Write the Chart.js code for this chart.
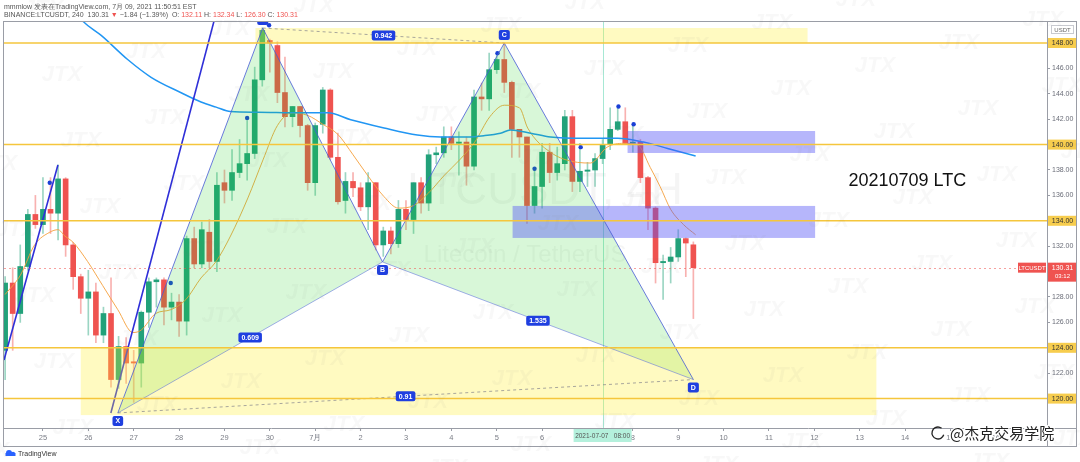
<!DOCTYPE html>
<html>
<head>
<meta charset="utf-8">
<title>LTCUSDT 4H</title>
<script src="https://cdn.jsdelivr.net/npm/chart.js@4.4.1/dist/chart.umd.min.js"></script>
<style>
  html, body { margin: 0; padding: 0; background: #fff; overflow: hidden; }
  canvas { display: block; }
</style>
</head>
<body>
<canvas id="ltcChart" width="1080" height="462"></canvas>
<script>
// bar index 0 = 25 Jun 00:00, one step = one 4h candle
const firstBar = -5;
const opens = [
  123.8, 129.1, 126.7, 130.4, 134.5, 133.7, 134.9, 134.6, 137.3, 132.1,
  129.6, 127.9, 128.4, 125.0, 126.7, 121.5, 124.1, 122.9, 122.8, 126.8,
  129.2, 129.35, 127.2, 127.6, 126.1, 132.6, 130.6, 133.1, 130.8, 137.0,
  136.4, 137.8, 138.5, 139.3, 145.1, 148.2, 147.8, 144.1, 142.2, 143.0,
  141.5, 137.0, 141.6, 144.3, 139.0, 135.6, 137.1, 136.6, 135.1, 137.0,
  132.1, 133.2, 132.2, 134.9, 134.1, 137.0, 135.4, 139.2, 139.35, 140.6,
  140.1, 140.2, 138.3, 143.75, 143.6, 145.9, 146.7, 144.9, 141.2, 140.6,
  135.2, 136.7, 139.4, 137.8, 138.5, 142.2, 137.1, 137.9, 138.0, 138.9,
  140.0, 141.2, 141.8, 140.1, 140.2, 137.4, 135.0, 130.7, 130.8, 131.15,
  132.6, 132.11
];
const highs = [
  129.6, 130.3, 132.1, 134.9, 136.0, 137.4, 137.4, 138.4, 137.4, 132.3,
  129.8, 130.1, 129.1, 127.2, 129.5, 124.9, 124.8, 123.8, 126.9, 129.5,
  129.5, 129.5, 128.3, 128.2, 132.8, 133.5, 133.9, 134.1, 137.8, 138.0,
  139.6, 140.4, 141.9, 146.1, 149.2, 148.3, 148.1, 146.9, 143.0, 143.0,
  141.6, 141.7, 144.5, 144.4, 140.9, 137.8, 137.8, 137.0, 137.8, 137.0,
  133.5, 133.5, 135.6, 135.6, 137.0, 137.4, 139.6, 139.8, 141.4, 141.4,
  141.0, 140.6, 144.3, 144.85, 147.2, 147.3, 148.0, 145.0, 141.2, 140.6,
  138.2, 140.1, 140.1, 139.8, 142.7, 142.7, 140.1, 138.6, 139.3, 140.4,
  142.9, 142.9, 142.9, 141.5, 140.4, 137.5, 135.1, 131.3, 131.9, 133.3,
  132.65, 132.34
];
const lows = [
  121.5, 123.8, 126.0, 130.1, 133.4, 133.0, 133.0, 132.5, 131.2, 128.6,
  126.7, 125.0, 124.4, 124.4, 120.9, 120.8, 121.2, 119.7, 120.9, 125.6,
  127.2, 125.8, 126.2, 124.9, 125.0, 130.3, 130.3, 130.3, 130.0, 135.4,
  135.6, 137.4, 137.2, 138.9, 144.6, 145.7, 143.3, 141.4, 141.4, 140.6,
  136.4, 136.0, 140.9, 138.8, 135.3, 134.6, 135.9, 134.8, 133.3, 131.7,
  131.2, 131.4, 131.9, 133.3, 133.0, 134.6, 134.8, 138.5, 139.0, 139.6,
  137.6, 136.8, 138.0, 142.7, 142.7, 145.6, 144.1, 139.0, 139.0, 133.8,
  134.6, 135.0, 137.0, 137.2, 138.0, 136.3, 136.3, 136.7, 136.7, 138.5,
  139.6, 141.1, 140.0, 139.4, 137.0, 133.3, 129.1, 127.8, 129.1, 130.8,
  129.6, 126.30
];
const closes = [
  129.1, 126.7, 130.4, 134.5, 133.7, 134.9, 134.6, 137.3, 132.1, 129.6,
  127.9, 128.4, 125.0, 126.7, 121.5, 124.1, 122.8, 122.8, 126.8, 129.2,
  129.35, 127.2, 127.6, 126.1, 132.6, 130.6, 133.3, 130.8, 136.8, 136.4,
  137.8, 138.5, 139.3, 145.1, 149.0, 148.0, 144.1, 142.2, 143.0, 141.5,
  137.0, 141.5, 144.3, 139.0, 135.5, 137.1, 136.6, 135.1, 137.0, 132.1,
  133.2, 132.2, 134.9, 134.1, 137.0, 135.4, 139.2, 139.35, 140.6, 140.1,
  140.2, 138.3, 143.75, 143.6, 145.9, 146.7, 144.9, 141.2, 140.6, 135.2,
  136.7, 139.4, 137.8, 138.5, 142.2, 137.1, 137.9, 138.0, 138.9, 140.0,
  141.2, 141.8, 140.1, 140.2, 137.4, 135.0, 130.7, 130.8, 131.15, 132.6,
  132.25, 130.31
];

const dayTicks = [0, 6, 12, 18, 24, 30, 36, 42, 48, 54, 60, 66, 72, 78, 84, 90, 96, 102, 108, 114, 120, 126, 132];
const dayLabels = ['25', '26', '27', '28', '29', '30', '7月', '2', '3', '4', '5', '6', '7', '8', '9', '10', '11', '12', '13', '14', '15', '16', '17'];
const priceTicks = [120, 122, 124, 126, 128, 130, 132, 134, 136, 138, 140, 142, 144, 146, 148];

// moving averages
const maFastBars = [-5.0, -3.0, -1.1, 0.9, 2.0, 2.9, 4.0, 5.9, 7.9, 9.9, 11.9, 13.0, 14.9, 16.9, 18.9, 20.9, 22.9, 24.8,
  27.1, 29.1, 31.0, 33.0, 35.0, 37.0, 39.0, 41.0, 42.9, 45.1, 47.0, 49.0, 51.0, 53.1, 55.1, 57.1, 59.1, 61.0, 63.0,
  64.1, 67.1, 70.7, 72.4, 74.6, 76.8, 78.6, 80.3, 81.6, 83.0, 84.7, 86.3];
const maFastVals = [128.2, 129.7, 132.1, 133.1, 133.3, 132.8, 132.3, 130.8, 128.9, 127.0, 125.2, 125.4, 126.7, 127.0, 127.8, 129.5, 130.8, 132.8,
  135.8, 138.8, 141.5, 142.5, 142.3, 141.6, 140.8, 139.2, 137.6, 135.9, 135.0, 135.2, 136.2, 137.6, 138.8, 140.2, 142.2, 143.1, 142.9,
  141.3, 139.4, 138.6, 138.55, 139.8, 140.1, 140.0, 138.2, 136.7, 134.9, 133.7, 132.9];
const maSlowBars = [4.5, 5.4, 7.7, 11.2, 14.3, 18.2, 20.9, 22.9, 24.8, 28.4, 34.1, 37.7, 40.7, 45.1, 49.5, 52.6, 56.1, 58.3,
  60.5, 61.8, 64.5, 67.1, 71.5, 76.0, 79.4, 82.6, 86.3];
const maSlowVals = [150.3, 149.65, 148.6, 146.7, 145.3, 144.1, 143.35, 142.95, 142.6, 142.55, 142.5, 142.5, 141.95, 141.3, 140.75, 140.6, 140.6, 140.7,
  140.9, 141.15, 140.9, 140.6, 140.5, 140.5, 140.2, 139.7, 139.1];

// fractal dots
const dotBars = [0.9, 16.9, 27.0, 29.9, 60.1, 65.0, 71.1, 76.1, 78.1];
const dotVals = [137.0, 129.1, 142.1, 149.4, 147.2, 138.1, 139.8, 143.0, 141.6];

// XABCD pattern
const patNames = ['X', 'A', 'B', 'C', 'D'];
const patBars = [9.9, 29.06, 44.9, 61.0, 86.0];
const patVals = [118.87, 149.18, 130.76, 148.0, 121.5];
const patRatios = ['0.609', '0.942', '1.535', '0.91']; // XB, AC, BD, XD

const levels = [148, 140, 134, 124, 120];
const lastPrice = 130.31;

// zones: [fromBar, toBar, low, high]
const yellowZones = [[28.1, 101.1, 148.0, 149.18], [5.0, 110.2, 118.7, 124.0]];
const blueZones = [[77.3, 102.1, 139.34, 141.07], [62.1, 102.1, 132.65, 135.17]];

const trend1Bars = [-5.15, 1.98], trend1Vals = [123.04, 138.39];
const trend2Bars = [8.98, 24.0], trend2Vals = [118.87, 152.85];

const cursorBar = 74;
const noteBar = 106.5, noteVal = 137.1;

const FONT = '"Liberation Sans", Arial, sans-serif';
const GREEN = '#22a17a', RED = '#ef5350';

const bars = opens.map((_, i) => firstBar + i);
const isUp = opens.map((o, i) => closes[i] >= o);

function tag(ctx, text, cx, cy, bg, fg, font, h) {
  ctx.font = font;
  const w = ctx.measureText(text).width + 6;
  ctx.fillStyle = bg;
  ctx.beginPath();
  ctx.roundRect(cx - w / 2, cy - h / 2, w, h, 2);
  ctx.fill();
  ctx.fillStyle = fg;
  ctx.textAlign = 'center';
  ctx.textBaseline = 'middle';
  ctx.fillText(text, cx, cy + 0.5);
}

const drawings = {
  id: 'drawings',
  beforeDatasetsDraw(chart) {
    const { ctx, chartArea: a, scales: { x } } = chart;
    ctx.save();
    ctx.beginPath();
    ctx.rect(a.left, a.top, a.right - a.left, a.bottom - a.top);
    ctx.clip();
    ctx.fillStyle = 'rgba(110,110,110,0.07)';
    ctx.textAlign = 'center';
    ctx.textBaseline = 'middle';
    ctx.font = '44px ' + FONT;
    ctx.fillText('LTCUSDT, 4H', 545, 192);
    ctx.font = '24px ' + FONT;
    ctx.fillText('Litecoin / TetherUS', 525, 255);
    const cx = Math.round(x.getPixelForValue(cursorBar)) + 0.5;
    ctx.strokeStyle = 'rgba(80,210,170,0.5)';
    ctx.lineWidth = 1;
    ctx.beginPath();
    ctx.moveTo(cx, a.top);
    ctx.lineTo(cx, a.bottom);
    ctx.stroke();
    ctx.restore();
  },
  afterDatasetsDraw(chart) {
    const { ctx, chartArea: a, scales: { x, y } } = chart;
    const P = i => [x.getPixelForValue(patBars[i]), y.getPixelForValue(patVals[i])];
    const seg = (i, j) => {
      const p = P(i), q = P(j);
      ctx.beginPath(); ctx.moveTo(p[0], p[1]); ctx.lineTo(q[0], q[1]); ctx.stroke();
    };
    ctx.save();
    ctx.beginPath();
    ctx.rect(a.left, a.top, a.right - a.left, a.bottom - a.top);
    ctx.clip();

    // pattern triangles
    ctx.fillStyle = 'rgba(40,210,40,0.18)';
    [[0, 1, 2], [2, 3, 4]].forEach(t => {
      ctx.beginPath();
      t.forEach((i, n) => { const p = P(i); n ? ctx.lineTo(p[0], p[1]) : ctx.moveTo(p[0], p[1]); });
      ctx.closePath();
      ctx.fill();
    });

    // zones
    const zone = (z, fill) => {
      const x0 = x.getPixelForValue(z[0]), x1 = x.getPixelForValue(z[1]);
      const y0 = y.getPixelForValue(z[3]), y1 = y.getPixelForValue(z[2]);
      ctx.fillStyle = fill;
      ctx.fillRect(x0, y0, x1 - x0, y1 - y0);
    };
    yellowZones.forEach(z => zone(z, 'rgba(255,238,50,0.3)'));
    blueZones.forEach(z => zone(z, 'rgba(80,80,245,0.42)'));

    // pattern legs
    ctx.lineWidth = 1;
    ctx.strokeStyle = 'rgba(70,90,215,0.8)';
    for (let i = 0; i < 4; i++) seg(i, i + 1);
    ctx.strokeStyle = 'rgba(90,110,220,0.55)';
    seg(0, 2); seg(2, 4);
    ctx.setLineDash([3, 3]);
    ctx.strokeStyle = 'rgba(110,110,130,0.6)';
    seg(1, 3); seg(0, 4);
    ctx.setLineDash([]);

    // horizontal levels
    ctx.strokeStyle = '#f5c63c';
    ctx.lineWidth = 1.5;
    levels.forEach(v => {
      const py = y.getPixelForValue(v);
      ctx.beginPath(); ctx.moveTo(a.left, py); ctx.lineTo(a.right, py); ctx.stroke();
    });
    ctx.strokeStyle = 'rgba(239,83,80,0.55)';
    ctx.lineWidth = 1;
    ctx.setLineDash([2, 3]);
    const lp = Math.round(y.getPixelForValue(lastPrice)) + 0.5;
    ctx.beginPath(); ctx.moveTo(a.left, lp); ctx.lineTo(a.right, lp); ctx.stroke();
    ctx.setLineDash([]);

    // ratio and point labels
    const lab = 'bold 7px ' + FONT;
    [[0, 2], [1, 3], [2, 4], [0, 4]].forEach(([i, j], n) => {
      const p = P(i), q = P(j);
      tag(ctx, patRatios[n], (p[0] + q[0]) / 2, (p[1] + q[1]) / 2, '#1f3fe0', '#fff', lab, 10);
    });
    patNames.forEach((nm, i) => {
      const p = P(i);
      const off = (i === 1 || i === 3) ? -8 : 8;
      tag(ctx, nm, p[0], p[1] + off, '#1f3fe0', '#fff', lab, 10);
    });

    ctx.fillStyle = '#111';
    ctx.font = '18px ' + FONT;
    ctx.textAlign = 'left';
    ctx.textBaseline = 'middle';
    ctx.fillText('20210709 LTC', x.getPixelForValue(noteBar), y.getPixelForValue(noteVal));
    ctx.restore();
  },
  afterDraw(chart) {
    const { ctx, chartArea: a, scales: { x, y } } = chart;
    ctx.save();
    // price axis tags
    levels.forEach(v => {
      const py = y.getPixelForValue(v);
      ctx.fillStyle = '#f7cd4e';
      ctx.fillRect(a.right + 1, py - 5, 29, 10);
      ctx.fillStyle = '#333';
      ctx.font = '7px ' + FONT;
      ctx.textAlign = 'center';
      ctx.textBaseline = 'middle';
      ctx.fillText(v.toFixed(2), a.right + 15.5, py + 0.5);
    });
    const lp = y.getPixelForValue(lastPrice);
    ctx.fillStyle = RED;
    ctx.fillRect(a.right - 29, lp - 5, 28, 10);
    ctx.fillRect(a.right + 1, lp - 5, 29, 19);
    ctx.fillStyle = '#fff';
    ctx.font = '6px ' + FONT;
    ctx.textAlign = 'center';
    ctx.textBaseline = 'middle';
    ctx.fillText('LTCUSDT', a.right - 15, lp + 0.5);
    ctx.font = '7px ' + FONT;
    ctx.fillText(lastPrice.toFixed(2), a.right + 15.5, lp + 0.5);
    ctx.font = '6px ' + FONT;
    ctx.fillText('03:12', a.right + 15.5, lp + 9);
    // currency tag
    ctx.strokeStyle = '#c8cad0';
    ctx.strokeRect(a.right + 4.5, a.top + 4.5, 22, 8);
    ctx.fillStyle = '#666';
    ctx.fillText('USDT', a.right + 15.5, a.top + 9);
    // crosshair time tag
    const cx = x.getPixelForValue(cursorBar);
    ctx.fillStyle = '#b4f0dc';
    ctx.fillRect(cx - 29, a.bottom + 1, 58, 13);
    ctx.fillStyle = '#555';
    ctx.font = '6.5px ' + FONT;
    ctx.fillText('2021-07-07   08:00', cx, a.bottom + 8);
    // frame
    ctx.strokeStyle = '#9a9da6';
    ctx.lineWidth = 1;
    ctx.strokeRect(3.5, 21.5, 1073, 425);
    ctx.beginPath();
    ctx.moveTo(a.right + 0.5, 21); ctx.lineTo(a.right + 0.5, 447);
    ctx.moveTo(3, a.bottom + 0.5); ctx.lineTo(1077, a.bottom + 0.5);
    ctx.stroke();
    // header
    ctx.textAlign = 'left';
    ctx.textBaseline = 'alphabetic';
    ctx.font = '7px ' + FONT;
    ctx.fillStyle = '#555';
    ctx.fillText('mmmlow 发表在TradingView.com, 7月 09, 2021 11:50:51 EST', 4, 9);
    const parts = [['BINANCE:LTCUSDT, 240  130.31 ', '#555'], ['▼', RED], [' −1.84 (−1.39%)  O: ', '#555'], ['132.11', RED],
      [' H: ', '#555'], ['132.34', RED], [' L: ', '#555'], ['126.30', RED], [' C: ', '#555'], ['130.31', RED]];
    let tx = 4;
    parts.forEach(([t, c]) => { ctx.fillStyle = c; ctx.fillText(t, tx, 17); tx += ctx.measureText(t).width; });
    // TradingView logo
    ctx.fillStyle = '#2962ff';
    ctx.beginPath();
    ctx.arc(9, 453, 3, Math.PI, 0); ctx.arc(13, 454, 2.2, Math.PI, 0);
    ctx.fillRect(5.5, 453, 10, 3);
    ctx.fill();
    ctx.fillStyle = '#333';
    ctx.font = '7px ' + FONT;
    ctx.fillText('TradingView', 18, 456);
    // JTX marks
    ctx.font = 'italic bold 22px ' + FONT;
    ctx.fillStyle = 'rgba(120,120,120,0.05)';
    ctx.textAlign = 'center';
    ctx.textBaseline = 'middle';
    for (let i = -8; i < 16; i++) {
      for (let j = -8; j < 10; j++) {
        const wx = 100 + i * 84 + j * 19, wy = 207 - i * 23 + j * 66;
        if (wx > -30 && wx < 1110 && wy > -20 && wy < 480) ctx.fillText('JTX', wx, wy);
      }
    }
    // article watermark
    ctx.font = '15px "Noto Sans CJK SC", sans-serif';
    ctx.textAlign = 'left';
    ctx.lineWidth = 2.5;
    ctx.strokeStyle = '#fff';
    ctx.strokeText('@杰克交易学院', 950, 433);
    ctx.fillStyle = '#222';
    ctx.fillText('@杰克交易学院', 950, 433);
    ctx.strokeStyle = '#222';
    ctx.lineWidth = 1.3;
    ctx.beginPath();
    ctx.arc(938, 433, 6, 0.3, Math.PI * 1.7);
    ctx.stroke();
    ctx.restore();
  }
};

new Chart(document.getElementById('ltcChart'), {
  type: 'bar',
  data: {
    datasets: [
      {
        type: 'bar',
        data: bars.map((b, i) => ({ x: b, y: [lows[i], highs[i]] })),
        backgroundColor: isUp.map(u => u ? 'rgba(34,161,122,0.45)' : 'rgba(239,83,80,0.45)'),
        barThickness: 1,
        grouped: false,
        minBarLength: 1,
        order: 5
      },
      {
        type: 'bar',
        data: bars.map((b, i) => ({ x: b, y: [opens[i], closes[i]] })),
        backgroundColor: isUp.map(u => u ? GREEN : RED),
        barThickness: 5,
        grouped: false,
        minBarLength: 1,
        order: 4
      },
      {
        type: 'line',
        data: maFastBars.map((b, i) => ({ x: b, y: maFastVals[i] })),
        borderColor: 'rgba(245,160,60,0.9)',
        borderWidth: 1,
        pointRadius: 0,
        cubicInterpolationMode: 'monotone',
        order: 3
      },
      {
        type: 'line',
        data: maSlowBars.map((b, i) => ({ x: b, y: maSlowVals[i] })),
        borderColor: '#2196f3',
        borderWidth: 1.5,
        pointRadius: 0,
        cubicInterpolationMode: 'monotone',
        order: 2
      },
      {
        type: 'line',
        data: trend1Bars.map((b, i) => ({ x: b, y: trend1Vals[i] })),
        borderColor: '#2f2fd8',
        borderWidth: 1.6,
        pointRadius: 0,
        order: 1
      },
      {
        type: 'line',
        data: trend2Bars.map((b, i) => ({ x: b, y: trend2Vals[i] })),
        borderColor: '#2f2fd8',
        borderWidth: 1.6,
        pointRadius: 0,
        order: 1
      },
      {
        type: 'line',
        data: dotBars.map((b, i) => ({ x: b, y: dotVals[i] })),
        showLine: false,
        pointRadius: 2.2,
        pointBackgroundColor: '#1a3fd6',
        pointBorderWidth: 0,
        order: 0
      }
    ]
  },
  options: {
    responsive: false,
    devicePixelRatio: 1,
    animation: false,
    layout: { padding: { top: 21, left: 3, right: 3, bottom: 16 } },
    plugins: { legend: { display: false }, tooltip: { enabled: false } },
    scales: {
      x: {
        type: 'linear',
        min: -5.15,
        max: 132.76,
        offset: false,
        grid: { display: true, offset: false, drawOnChartArea: false, tickLength: 3, color: '#9a9da6' },
        border: { display: false },
        afterBuildTicks: s => { s.ticks = dayTicks.map(v => ({ value: v })); },
        afterFit: s => { s.height = 18; },
        ticks: {
          autoSkip: false,
          maxRotation: 0,
          padding: 2,
          color: '#7a7d86',
          font: { size: 7.5, family: FONT },
          callback: (v, i) => dayLabels[i]
        }
      },
      y: {
        position: 'right',
        min: 117.685,
        max: 149.732,
        grid: { display: true, drawOnChartArea: false, tickLength: 3, color: '#9a9da6' },
        border: { display: false },
        afterBuildTicks: s => { s.ticks = priceTicks.map(v => ({ value: v })); },
        afterFit: s => { s.width = 30; },
        ticks: {
          padding: 2,
          color: '#6a6d78',
          font: { size: 7, family: FONT },
          callback: v => v.toFixed(2)
        }
      }
    }
  },
  plugins: [drawings]
});
</script>
</body>
</html>
